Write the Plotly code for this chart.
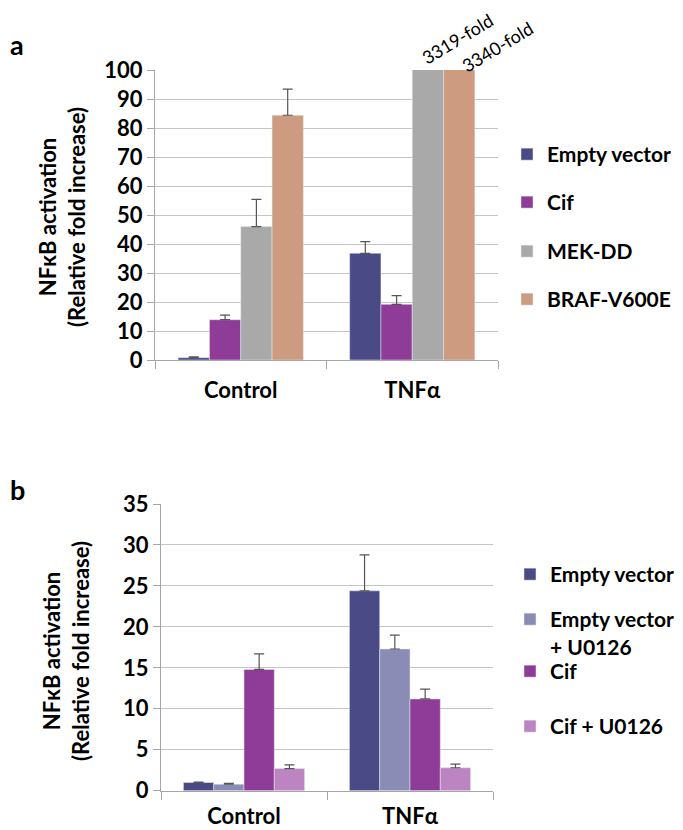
# NFkB activation bar charts (panels a and b)
import plotly.graph_objects as go

categories = ["Control", "TNFα"]

# panel a
a_series = ["Empty vector", "Cif", "MEK-DD", "BRAF-V600E"]
a_values = [[0.8, 36.8], [13.9, 19.2], [46.0, 3319], [84.4, 3340]]
a_errors = [[0.3, 4.0], [1.6, 3.0], [9.4, 0], [9.0, 0]]
a_colors = ["#4a4a86", "#8f3c98", "#a9a9a9", "#cc9b80"]
a_ticks = [0, 10, 20, 30, 40, 50, 60, 70, 80, 90, 100]
fold_labels = ["3319-fold", "3340-fold"]

# panel b
b_series = ["Empty vector", "Empty vector<br>+ U0126", "Cif", "Cif + U0126"]
b_values = [[1.0, 24.4], [0.8, 17.3], [14.8, 11.2], [2.7, 2.8]]
b_errors = [[0.05, 4.4], [0.1, 1.7], [1.9, 1.2], [0.45, 0.45]]
b_colors = ["#4a4a86", "#8a8cb5", "#8f3c98", "#bd84c2"]
b_ticks = [0, 5, 10, 15, 20, 25, 30, 35]

# legend rows (screen y of each entry's first line)
a_legend_y = [155, 203, 252, 300]
b_legend_y = [575, 620, 672, 727]

FONT = "Lato"
W, H = 683, 830
OFF = 8  # page body margin
GRID = "#c4c4c4"


def px_x(x):
    # screen pixel -> paper fraction
    return (x - OFF) / W


def px_y(y):
    return 1 - (y - OFF) / H


bold = dict(family=FONT, size=22, color="black", weight="bold")
legend_font = dict(family=FONT, size=21, color="black", weight="bold")

fig = go.Figure()
legends = {}

panels = [
    ("x", "y", a_series, a_values, a_errors, a_colors, a_legend_y, 507, 1),
    ("x2", "y2", b_series, b_values, b_errors, b_colors, b_legend_y, 510, 5),
]
for xa, ya, series, values, errors, colors, leg_y, leg_x, first in panels:
    for i, (name, vals, errs, col) in enumerate(zip(series, values, errors, colors)):
        n = first + i
        key = "legend" if n == 1 else f"legend{n}"
        fig.add_trace(go.Bar(
            x=categories, y=vals, name=name, marker_color=col,
            error_y=dict(type="data", array=errs, arrayminus=[0, 0], symmetric=False,
                         color="#555555", thickness=1.2, width=5),
            xaxis=xa, yaxis=ya, legend=key, showlegend=True,
        ))
        legends[key] = dict(
            x=px_x(leg_x), y=px_y(leg_y[i] - 21), xanchor="left", yanchor="top",
            font=legend_font, valign="top", bgcolor="rgba(0,0,0,0)", itemclick=False,
        )

xaxis_style = dict(
    type="category", tickson="boundaries", ticks="outside", ticklen=8,
    tickcolor="#a6a6a6", showline=True, linecolor="#a6a6a6", showgrid=False,
    tickfont=bold, automargin=False,
)
yaxis_style = dict(
    ticks="outside", ticklen=7, tickcolor="#a6a6a6", showline=True, linecolor="#a6a6a6",
    showgrid=True, gridcolor=GRID, gridwidth=1, zeroline=False, tickfont=bold,
    automargin=False,
)

fig.update_layout(
    width=W, height=H, margin=dict(l=0, r=0, t=0, b=0, autoexpand=False),
    paper_bgcolor="white", plot_bgcolor="white", showlegend=True,
    barmode="group", bargap=0.27, bargroupgap=0,
    xaxis=dict(domain=[px_x(155), px_x(498)], anchor="y", ticklabelstandoff=11,
               **xaxis_style),
    yaxis=dict(domain=[px_y(360), px_y(70)], anchor="x", range=[0, 100],
               tickvals=a_ticks, **yaxis_style),
    xaxis2=dict(domain=[px_x(161), px_x(493)], anchor="y2", ticklabelstandoff=6,
                **xaxis_style),
    yaxis2=dict(domain=[px_y(790.7), px_y(504)], anchor="x2", range=[0, 35],
                tickvals=b_ticks, **yaxis_style),
    **legends,
)

title_text = "NFκB activation<br>(Relative fold increase)"
for cx, cy in [(62, 217), (66, 651)]:
    fig.add_annotation(
        x=px_x(cx), y=px_y(cy), xref="paper", yref="paper", text=title_text,
        textangle=-90, showarrow=False, xanchor="center", yanchor="middle", font=bold,
    )

for letter, ly in [("a", 44), ("b", 489)]:
    fig.add_annotation(
        x=px_x(8), y=px_y(ly), xref="paper", yref="paper", text=letter,
        showarrow=False, xanchor="left", yanchor="middle",
        font=dict(family=FONT, size=27, color="black", weight="bold"),
    )

for label, fx, fy in zip(fold_labels, [457, 497], [39, 47]):
    fig.add_annotation(
        x=px_x(fx), y=px_y(fy), xref="paper", yref="paper", text=label,
        textangle=-31, showarrow=False, xanchor="center", yanchor="middle",
        font=dict(family=FONT, size=18, color="black"), borderpad=0,
    )

fig.write_html("out.html")
